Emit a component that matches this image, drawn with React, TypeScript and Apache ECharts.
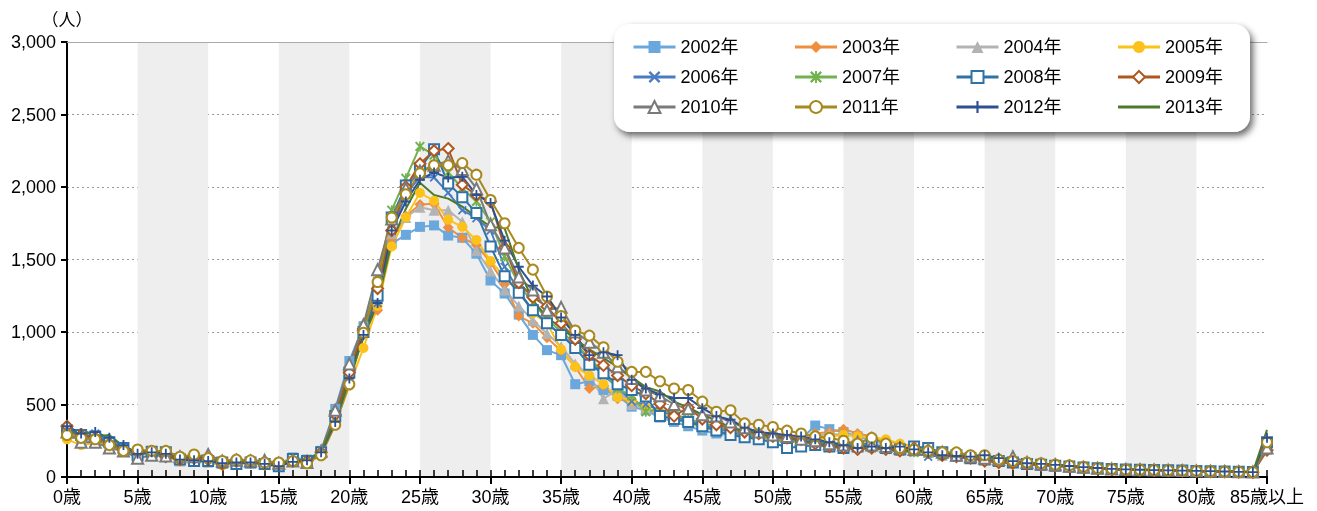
import React, { useEffect, useRef } from "react";
import * as echarts from "echarts";

const FONT = "'Liberation Sans', 'Noto Sans CJK JP', sans-serif";

const ages: string[] = [...Array.from({ length: 85 }, (_, i) => `${i}歳`), "85歳以上"];
const years = ["2002年", "2003年", "2004年", "2005年", "2006年", "2007年", "2008年", "2009年", "2010年", "2011年", "2012年", "2013年"];
const yTicks = [0, 500, 1000, 1500, 2000, 2500, 3000];

const y2002 = [
  280, 260, 250, 230, 190, 150, 170, 175, 130, 110, 100, 95, 100, 95, 85, 90, 135, 120,
  180, 470, 800, 1040, 1260, 1610, 1670, 1725, 1735, 1665, 1650, 1540, 1355, 1265, 1120, 980, 875, 840, 640, 660, 600, 560, 485,
  460, 410, 380, 350, 320, 300, 290, 280, 270, 260, 250, 260, 355, 330, 310, 280, 250, 230, 200, 190,
  170, 160, 150, 140, 130, 110, 100, 85, 80, 75, 70, 65, 60, 55, 55, 50, 50, 45, 45, 42, 40, 38, 35, 35, 190,
];
const y2003 = [
  330, 280, 260, 240, 210, 170, 165, 150, 120, 120, 110, 85, 100, 110, 100, 85, 100, 110,
  170, 430, 700, 1000, 1150, 1640, 1800, 1880, 1885, 1720, 1650, 1600, 1480, 1330, 1110, 1060, 960, 870, 760, 610, 630, 540, 520,
  470, 430, 400, 370, 350, 330, 300, 280, 270, 260, 265, 280, 300, 310, 330, 300, 280, 250, 230, 210,
  180, 160, 140, 130, 120, 110, 100, 90, 85, 80, 72, 65, 60, 55, 55, 50, 48, 45, 45, 40, 38, 36, 35, 34, 180,
];
const y2004 = [
  300, 250, 250, 220, 200, 160, 160, 170, 110, 130, 120, 100, 110, 100, 100, 90, 110, 100,
  175, 440, 780, 1030, 1230, 1680, 1790, 1860, 1840, 1840, 1760, 1560, 1420, 1290, 1180, 1080, 990, 900, 780, 700, 540, 600, 500,
  470, 440, 410, 380, 350, 320, 300, 290, 280, 260, 250, 270, 280, 300, 290, 290, 260, 220, 190, 180,
  170, 150, 145, 135, 125, 115, 100, 90, 85, 80, 72, 65, 58, 52, 50, 48, 46, 44, 42, 40, 38, 36, 34, 32, 210,
];
const y2005 = [
  260, 220, 235, 230, 180, 180, 150, 140, 110, 120, 100, 80, 95, 95, 80, 80, 100, 90,
  160, 370, 630, 890, 1180, 1590, 1790, 1960, 1905, 1775, 1725, 1635, 1490, 1380, 1290, 1130, 1060, 880, 760, 700, 640, 550, 530,
  480, 440, 400, 370, 340, 320, 290, 270, 260, 250, 240, 240, 250, 280, 290, 280, 270, 260, 230, 200,
  180, 160, 150, 140, 130, 115, 100, 90, 85, 80, 70, 62, 58, 52, 50, 48, 46, 44, 42, 40, 38, 36, 34, 32, 220,
];
const y2006 = [
  340, 300, 300, 250, 210, 150, 180, 160, 120, 110, 110, 90, 100, 100, 90, 80, 110, 100,
  180, 400, 700, 1000, 1200, 1700, 1950, 2070, 2065, 1960, 1840, 1785, 1700, 1450, 1280, 1150, 1060, 980, 900, 820, 700, 620, 520,
  500, 460, 420, 390, 360, 340, 310, 290, 280, 270, 260, 240, 230, 220, 240, 220, 200, 190, 180, 170,
  140, 150, 135, 125, 120, 110, 100, 90, 82, 78, 70, 64, 58, 52, 50, 48, 46, 44, 42, 40, 38, 36, 34, 32, 230,
];
const y2007 = [
  310, 280, 270, 250, 200, 170, 170, 150, 120, 130, 120, 100, 110, 110, 95, 90, 105, 110,
  180, 440, 740, 1030, 1350, 1840, 2060, 2280, 2220, 2100, 1990, 1900, 1760, 1520, 1330, 1200, 1090, 1000, 920, 820, 720, 610, 560,
  450, 470, 430, 400, 370, 350, 320, 300, 280, 270, 240, 250, 220, 230, 220, 210, 200, 190, 180, 170,
  165, 150, 140, 130, 120, 110, 100, 90, 85, 80, 72, 65, 60, 55, 52, 50, 48, 46, 44, 42, 40, 38, 36, 34, 200,
];
const y2008 = [
  320, 290, 280, 240, 200, 150, 175, 170, 120, 110, 110, 100, 90, 100, 90, 75, 125, 110,
  170, 420, 720, 1000, 1250, 1790, 2010, 2130, 2260, 2025, 1930, 1820, 1590, 1385, 1270, 1150, 1060, 980, 890, 775, 715, 640, 600,
  555, 420, 400, 380, 350, 320, 290, 275, 260, 240, 200, 210, 220, 210, 200, 210, 230, 200, 190, 210,
  200, 170, 150, 130, 120, 110, 100, 90, 84, 78, 72, 65, 60, 55, 52, 50, 48, 46, 44, 42, 40, 38, 36, 34, 240,
];
const y2009 = [
  350, 290, 270, 230, 190, 170, 170, 140, 120, 130, 120, 90, 110, 105, 95, 90, 110, 110,
  170, 430, 720, 1020, 1300, 1700, 2000, 2160, 2250, 2265, 2015, 1945, 1900, 1580, 1340, 1240, 1175, 1060, 950, 840, 770, 700, 630,
  575, 505, 420, 480, 400, 360, 340, 310, 300, 280, 270, 260, 230, 210, 200, 190, 200, 190, 180, 200,
  170, 150, 140, 130, 110, 100, 95, 88, 82, 78, 70, 64, 58, 52, 50, 48, 46, 44, 42, 40, 38, 36, 34, 32, 185,
];
const y2010 = [
  310, 240, 240, 200, 180, 130, 150, 145, 140, 140, 155, 110, 115, 110, 115, 95, 110, 100,
  180, 460, 780, 1050, 1430, 1780, 1990, 2110, 2150, 2180, 2120, 1990, 1740, 1580, 1380, 1290, 1150, 1170, 1000, 930, 860, 760, 680,
  600, 560, 500, 470, 430, 420, 380, 340, 310, 290, 280, 260, 250, 230, 220, 240, 220, 210, 200, 190,
  190, 170, 150, 140, 130, 120, 140, 100, 90, 85, 75, 68, 60, 55, 52, 50, 48, 46, 44, 42, 40, 38, 36, 34, 200,
];
const y2011 = [
  290, 270, 260, 220, 180, 190, 180, 180, 140, 155, 130, 110, 120, 115, 100, 100, 110, 95,
  150, 360, 640, 995, 1345, 1790, 1950, 2095, 2150, 2150, 2165, 2085, 1910, 1750, 1580, 1430, 1245, 1110, 1010, 975, 895, 795, 725,
  725, 660, 610, 600, 520, 450, 460, 370, 360, 345, 320, 300, 280, 270, 250, 230, 270, 230, 200, 190,
  180, 170, 170, 150, 150, 120, 110, 100, 95, 85, 80, 70, 60, 55, 52, 50, 48, 46, 44, 42, 40, 38, 36, 34, 240,
];
const y2012 = [
  350, 300, 310, 270, 220, 160, 170, 160, 120, 115, 110, 95, 100, 100, 90, 75, 105, 115,
  170, 380, 680, 980, 1200, 1700, 1900, 2050, 2100, 2065, 2070, 1945, 1890, 1630, 1450, 1320, 1245, 1100, 980, 840, 860, 840, 670,
  610, 570, 545, 545, 475, 420, 395, 340, 310, 300, 290, 280, 260, 240, 220, 200, 210, 200, 210, 190,
  170, 150, 145, 140, 150, 130, 110, 95, 90, 84, 76, 68, 62, 56, 52, 50, 48, 46, 44, 42, 40, 38, 36, 34, 270,
];
const y2013 = [
  290, 330, 280, 290, 210, 170, 170, 150, 130, 140, 130, 100, 100, 105, 85, 95, 110, 115,
  170, 400, 680, 960, 1200, 1620, 1850, 2030, 1945, 1920, 1865, 1795, 1725, 1715, 1430, 1220, 1100, 1030, 950, 880, 820, 760, 690,
  620, 590, 520, 480, 430, 390, 340, 320, 300, 280, 270, 250, 230, 220, 210, 200, 200, 190, 180, 180,
  175, 165, 150, 145, 140, 125, 110, 95, 90, 85, 75, 68, 60, 55, 52, 50, 48, 46, 44, 42, 40, 38, 36, 34, 325,
];

const seriesValues = [y2002, y2003, y2004, y2005, y2006, y2007, y2008, y2009, y2010, y2011, y2012, y2013];
const colors = ["#6AA7DC", "#EE8F40", "#B3B3B3", "#FCC21A", "#4A7CC3", "#72B250", "#2E72A6", "#B0571F", "#7A7A7A", "#A8891F", "#2C5090", "#4C7A2C"];

const X_PATH = "path://M0,1.4 L1.4,0 L5,3.6 L8.6,0 L10,1.4 L6.4,5 L10,8.6 L8.6,10 L5,6.4 L1.4,10 L0,8.6 L3.6,5 Z";
const STAR_PATH = "path://M0,1.4 L1.4,0 L5,3.6 L8.6,0 L10,1.4 L6.4,5 L10,8.6 L8.6,10 L5,6.4 L1.4,10 L0,8.6 L3.6,5 Z M4.2,0 L5.8,0 L5.8,10 L4.2,10 Z";
const PLUS_PATH = "path://M4.1,0 L5.9,0 L5.9,4.1 L10,4.1 L10,5.9 L5.9,5.9 L5.9,10 L4.1,10 L4.1,5.9 L0,5.9 L0,4.1 L4.1,4.1 Z";

const markers = [
  { symbol: "rect", size: 10, open: false },
  { symbol: "diamond", size: 11, open: false },
  { symbol: "triangle", size: 11, open: false },
  { symbol: "circle", size: 10, open: false },
  { symbol: X_PATH, size: 9, open: false },
  { symbol: STAR_PATH, size: 10, open: false },
  { symbol: "rect", size: 10, open: true },
  { symbol: "diamond", size: 11, open: true },
  { symbol: "triangle", size: 11, open: true },
  { symbol: "circle", size: 10, open: true },
  { symbol: PLUS_PATH, size: 10, open: false },
  { symbol: "none", size: 0, open: false },
];

export default function App() {
  const ref = useRef<HTMLDivElement>(null);
  useEffect(() => {
    if (!ref.current) return;
    const chart = echarts.init(ref.current, undefined, { renderer: "svg" });
    const series = years.map((name, i) => {
      const m = markers[i];
      const c = colors[i];
      const noMarker = m.symbol === "none";
      return {
        name,
        type: "line",
        data: seriesValues[i],
        color: c,
        symbol: noMarker ? "circle" : m.symbol,
        symbolSize: m.size,
        showSymbol: !noMarker,
        showAllSymbol: true,
        lineStyle: { color: c, width: 2 },
        itemStyle: noMarker
          ? { color: c, opacity: 0 }
          : m.open
          ? { color: "#fff", borderColor: c, borderWidth: 2 }
          : { color: c, borderWidth: 0 },
        emphasis: { disabled: true },
      };
    });
    chart.setOption({
      animation: false,
      textStyle: { fontFamily: FONT },
      grid: { left: 67, right: 50, top: 42, bottom: 34, containLabel: false, outerBoundsMode: "none" },
      graphic: [
        {
          type: "rect",
          left: 614,
          top: 24,
          z: 3,
          shape: { width: 636, height: 108, r: 16 },
          style: { fill: "#fff", shadowBlur: 7, shadowOffsetX: 3, shadowOffsetY: 4, shadowColor: "rgba(0,0,0,0.6)" },
        },
      ],
      legend: {
        data: years,
        left: 632,
        top: 32,
        padding: 0,
        width: 660,
        itemWidth: 42,
        itemHeight: 15,
        itemGap: 0,
        selectedMode: false,
        z: 5,
        lineStyle: { width: 3 },
        textStyle: { fontSize: 18, color: "#000", width: 113, lineHeight: 30, fontFamily: FONT },
      },
      xAxis: [
        {
          type: "category",
          data: ages,
          boundaryGap: false,
          axisLine: { lineStyle: { color: "#000", width: 2 } },
          axisTick: { interval: 4, length: 7, lineStyle: { color: "#000", width: 2 } },
          axisLabel: { interval: 4, color: "#000", fontSize: 18, margin: 11, fontFamily: FONT },
          splitLine: { show: false },
          splitArea: { show: true, interval: 4, areaStyle: { color: ["rgba(255,255,255,0)", "#eeeeee"] } },
        },
        {
          type: "category",
          data: ages,
          boundaryGap: false,
          position: "bottom",
          axisLine: { show: false },
          axisTick: { interval: 0, inside: true, length: 7, lineStyle: { color: "#000", width: 1.5 } },
          axisLabel: { show: false },
          splitLine: { show: false },
        },
        {
          type: "category",
          data: ages,
          boundaryGap: false,
          position: "top",
          axisLine: { lineStyle: { color: "#aaaaaa", width: 1 } },
          axisTick: { show: false },
          axisLabel: { show: false },
          splitLine: { show: false },
        },
      ],
      yAxis: {
        type: "value",
        min: yTicks[0],
        max: yTicks[yTicks.length - 1],
        interval: 500,
        name: "（人）",
        nameLocation: "end",
        nameGap: 13,
        nameTextStyle: { fontSize: 17, color: "#000", align: "center", fontFamily: FONT },
        axisLine: { show: true, lineStyle: { color: "#000", width: 2 } },
        axisTick: { show: true, length: 6, lineStyle: { color: "#000", width: 2 } },
        axisLabel: {
          color: "#000",
          fontSize: 18,
          margin: 11,
          fontFamily: FONT,
          formatter: (v: number) => v.toLocaleString("en-US"),
        },
        splitLine: { show: true, lineStyle: { color: "#999", type: [2, 3], width: 1 } },
      },
      series,
    });
    return () => chart.dispose();
  }, []);
  return <div ref={ref} style={{ position: "fixed", left: 0, top: 0, width: 1317, height: 511 }} />;
}
